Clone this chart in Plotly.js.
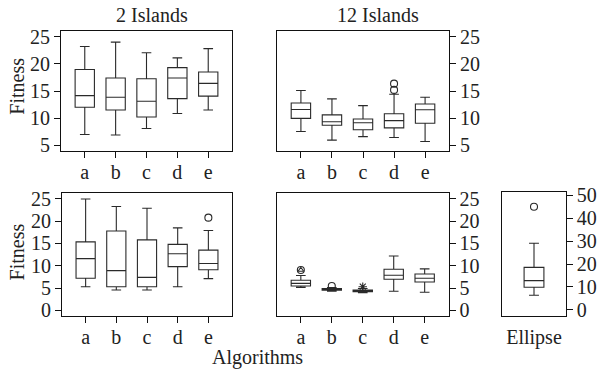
<!DOCTYPE html>
<html>
<head>
<meta charset="utf-8">
<script src="https://cdn.plot.ly/plotly-3.0.1.min.js"></script>
<style>html,body{margin:0;padding:0;background:#fff;}#chart{width:598px;height:369px;}</style>
</head>
<body>
<div id="chart"></div>
<script>
// ---- data ----
const algorithms = ["a", "b", "c", "d", "e"];

// 2 Islands (top-left)
const twoIsl_low    = [7.0, 6.9, 8.1, 10.85, 11.5];
const twoIsl_q1     = [12.0, 11.5, 10.2, 13.6, 14.05];
const twoIsl_median = [14.15, 13.85, 13.1, 17.4, 16.4];
const twoIsl_q3     = [18.95, 17.4, 17.25, 19.3, 18.5];
const twoIsl_high   = [23.2, 24.0, 22.05, 21.1, 22.8];

// 12 Islands (top-right)
const twelveIsl_low    = [7.55, 5.95, 6.6, 6.45, 5.7];
const twelveIsl_q1     = [9.95, 8.7, 7.85, 8.2, 9.05];
const twelveIsl_median = [11.6, 9.35, 9.15, 9.55, 11.55];
const twelveIsl_q3     = [12.8, 10.6, 9.85, 10.8, 12.6];
const twelveIsl_high   = [15.1, 13.55, 12.3, 14.4, 13.85];
const twelveIsl_outX   = ["d", "d"];
const twelveIsl_outY   = [16.35, 15.2];

// bottom-left
const botLeft_low    = [5.3, 4.55, 4.55, 5.3, 7.1];
const botLeft_q1     = [7.2, 5.3, 5.3, 9.8, 9.1];
const botLeft_median = [11.6, 8.9, 7.4, 12.7, 10.5];
const botLeft_q3     = [15.35, 17.8, 15.8, 14.8, 13.5];
const botLeft_high   = [25.0, 23.3, 22.9, 18.5, 17.9];
const botLeft_outX   = ["e"];
const botLeft_outY   = [20.8];

// bottom-middle
const botMid_low    = [5.15, 4.3, 3.95, 4.27, 4.04];
const botMid_q1     = [5.45, 4.5, 4.15, 6.96, 6.36];
const botMid_median = [6.05, 4.7, 4.35, 7.86, 7.2];
const botMid_q3     = [6.75, 4.9, 4.55, 9.2, 8.16];
const botMid_high   = [7.8, 5.1, 4.9, 12.2, 9.3];
const botMid_circleX = ["a", "b"];
const botMid_circleY = [9.05, 5.45];
const botMid_triX = ["a"];
const botMid_triY = [9.05];
const botMid_starX = ["c"];
const botMid_starY = [5.3];

// Ellipse
const ellipseCat = ["Ellipse"];
const ellipse_low = [6.4], ellipse_q1 = [9.86], ellipse_median = [12.75], ellipse_q3 = [18.55], ellipse_high = [29.0];
const ellipse_outY = [44.9];

// ---- styling ----
const INK = "#2a2a2a";
const LINE = {color: INK, width: 1.1};
const FONT = {family: "Liberation Serif, Times New Roman, serif", size: 20, color: "#222"};

function box(xa, ya, x, lo, q1, med, q3, hi, w) {
  return {type: "box", xaxis: xa, yaxis: ya, x: x, lowerfence: lo, q1: q1, median: med, q3: q3, upperfence: hi,
    width: w, whiskerwidth: 0.5, line: LINE, fillcolor: "rgba(0,0,0,0)", boxpoints: false, hoverinfo: "skip", showlegend: false};
}
function pts(xa, ya, x, y, sym, size) {
  return {type: "scatter", mode: "markers", xaxis: xa, yaxis: ya, x: x, y: y, showlegend: false, hoverinfo: "skip",
    marker: {symbol: sym, size: size, color: INK, line: {color: INK, width: 1.1}}};
}

const traces = [
  box("x", "y", algorithms, twoIsl_low, twoIsl_q1, twoIsl_median, twoIsl_q3, twoIsl_high, 0.625),
  box("x2", "y2", algorithms, twelveIsl_low, twelveIsl_q1, twelveIsl_median, twelveIsl_q3, twelveIsl_high, 0.625),
  pts("x2", "y2", twelveIsl_outX, twelveIsl_outY, "circle-open", 7),
  box("x3", "y3", algorithms, botLeft_low, botLeft_q1, botLeft_median, botLeft_q3, botLeft_high, 0.625),
  pts("x3", "y3", botLeft_outX, botLeft_outY, "circle-open", 7),
  box("x4", "y4", algorithms, botMid_low, botMid_q1, botMid_median, botMid_q3, botMid_high, 0.625),
  pts("x4", "y4", botMid_circleX, botMid_circleY, "circle-open", 7),
  pts("x4", "y4", botMid_triX, botMid_triY, "triangle-up-open", 5),
  pts("x4", "y4", botMid_starX, botMid_starY, "asterisk-open", 7),
  box("x5", "y5", ellipseCat, ellipse_low, ellipse_q1, ellipse_median, ellipse_q3, ellipse_high, 1.0),
  pts("x5", "y5", ellipseCat, ellipse_outY, "circle-open", 7)
];

function xax(dom) {
  return {domain: dom, type: "category", range: [-0.77, 4.77], showline: true, mirror: true, linecolor: "#111", linewidth: 1,
    ticks: "outside", ticklen: 6, tickcolor: "#111", tickwidth: 1, showgrid: false, zeroline: false, tickfont: FONT,
    ticklabelstandoff: -3, fixedrange: true};
}
function yax(dom, range, tv, side) {
  return {domain: dom, range: range, tickvals: tv, side: side, showline: true, mirror: true, linecolor: "#111", linewidth: 1,
    ticks: "outside", ticklen: 6, tickcolor: "#111", tickwidth: 1, showgrid: false, zeroline: false, tickfont: FONT, fixedrange: true};
}
const W = 598, H = 369;
const px = v => v / W, py = v => 1 - v / H;

const topY = [py(151), py(31)];
const botY = [py(316), py(192.7)];
const layout = {
  width: W, height: H, margin: {l: 0, r: 0, t: 0, b: 0}, paper_bgcolor: "#fff", plot_bgcolor: "#fff", showlegend: false,
  xaxis: Object.assign(xax([px(61), px(232)]), {anchor: "y"}),
  yaxis: Object.assign(yax(topY, [3.95, 26.05], [5, 10, 15, 20, 25], "left"), {anchor: "x"}),
  xaxis2: Object.assign(xax([px(277), px(449)]), {anchor: "y2"}),
  yaxis2: Object.assign(yax(topY, [3.95, 26.05], [5, 10, 15, 20, 25], "right"), {anchor: "x2"}),
  xaxis3: Object.assign(xax([px(62), px(232)]), {anchor: "y3"}),
  yaxis3: Object.assign(yax(botY, [-1.28, 26.4], [0, 5, 10, 15, 20, 25], "left"), {anchor: "x3"}),
  xaxis4: Object.assign(xax([px(277), px(448.5)]), {anchor: "y4"}),
  yaxis4: Object.assign(yax(botY, [-1.28, 26.4], [0, 5, 10, 15, 20, 25], "right"), {anchor: "x4"}),
  xaxis5: Object.assign(xax([px(502.3), px(565.7)]), {anchor: "y5", range: [-1.6, 1.6], ticks: "", ticklen: 0, ticklabelstandoff: 3}),
  yaxis5: Object.assign(yax([py(315.7), py(192.3)], [-2.5, 51.2], [0, 10, 20, 30, 40, 50], "right"), {anchor: "x5"}),
  annotations: [
    {text: "2 Islands", x: px(151.7), y: py(15), xref: "paper", yref: "paper", showarrow: false, font: FONT, xanchor: "center", yanchor: "middle"},
    {text: "12 Islands", x: px(378), y: py(15), xref: "paper", yref: "paper", showarrow: false, font: FONT, xanchor: "center", yanchor: "middle"},
    {text: "Fitness", x: px(16.7), y: py(86), xref: "paper", yref: "paper", showarrow: false, font: FONT, textangle: -90, xanchor: "center", yanchor: "middle"},
    {text: "Fitness", x: px(16.7), y: py(251.7), xref: "paper", yref: "paper", showarrow: false, font: FONT, textangle: -90, xanchor: "center", yanchor: "middle"},
    {text: "Algorithms", x: px(257), y: py(357), xref: "paper", yref: "paper", showarrow: false, font: FONT, xanchor: "center", yanchor: "middle"}
  ]
};
Plotly.newPlot("chart", traces, layout, {staticPlot: true, displayModeBar: false});
</script>
</body>
</html>
